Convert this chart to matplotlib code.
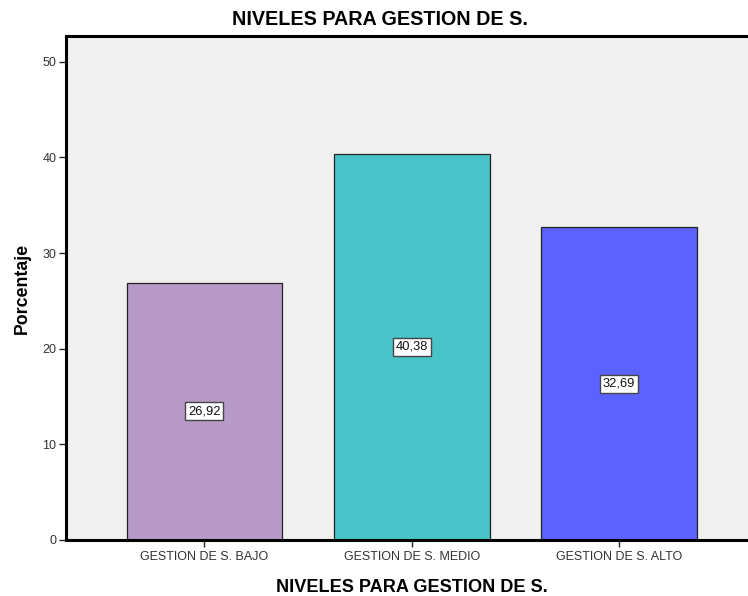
import matplotlib
matplotlib.use("Agg")
import matplotlib.pyplot as plt

categories = ["GESTION DE S. BAJO", "GESTION DE S. MEDIO", "GESTION DE S. ALTO"]
values = [26.92, 40.38, 32.69]
labels = ["26,92", "40,38", "32,69"]
colors = ["#B89AC8", "#48C4C8", "#5C62FF"]
yticks = [0, 10, 20, 30, 40, 50]
title = "NIVELES PARA GESTION DE S."

plt.rcParams['font.family'] = ['Liberation Sans', 'DejaVu Sans']

fig = plt.figure(figsize=(7.48, 5.96), dpi=100)
ax = fig.add_axes([66/748, 56/596, 691.5/748, 504/596])
ax.set_facecolor("#F0F0F0")
x = list(range(len(categories)))
ax.bar(x, values, width=0.75, color=colors, edgecolor="#222222", linewidth=0.9, zorder=2)
for xi, v, lab in zip(x, values, labels):
    ax.text(xi, v / 2, lab, ha="center", va="center", fontsize=9.3, color="#111111",
            bbox=dict(boxstyle="square,pad=0.22", facecolor="white", edgecolor="#444444", linewidth=1.0),
            zorder=3)
ax.set_xlim(-0.667, 2.667)
ax.set_ylim(0, 52.7)
ax.set_yticks(yticks)
ax.set_yticklabels([str(t) for t in yticks])
ax.set_xticks(x)
ax.set_xticklabels(categories)
ax.tick_params(axis="both", labelsize=9, colors="#222222", labelcolor="#333333", length=5, width=1)
ax.tick_params(axis="x", pad=3)
ax.tick_params(axis="y", pad=2)
for s in ["left", "bottom", "top"]:
    ax.spines[s].set_linewidth(2.2)
    ax.spines[s].set_color("black")
ax.spines["right"].set_visible(False)
fig.text(380/748, 1 - 25/596, title, ha="center", va="baseline", fontsize=14.2, fontweight="bold")
fig.text(412/748, 4.5/596, title, ha="center", va="baseline", fontsize=13.1, fontweight="bold")
ax.set_ylabel("Porcentaje", fontsize=12.8, fontweight="bold", labelpad=8)
fig.savefig("out.png", dpi=100)
